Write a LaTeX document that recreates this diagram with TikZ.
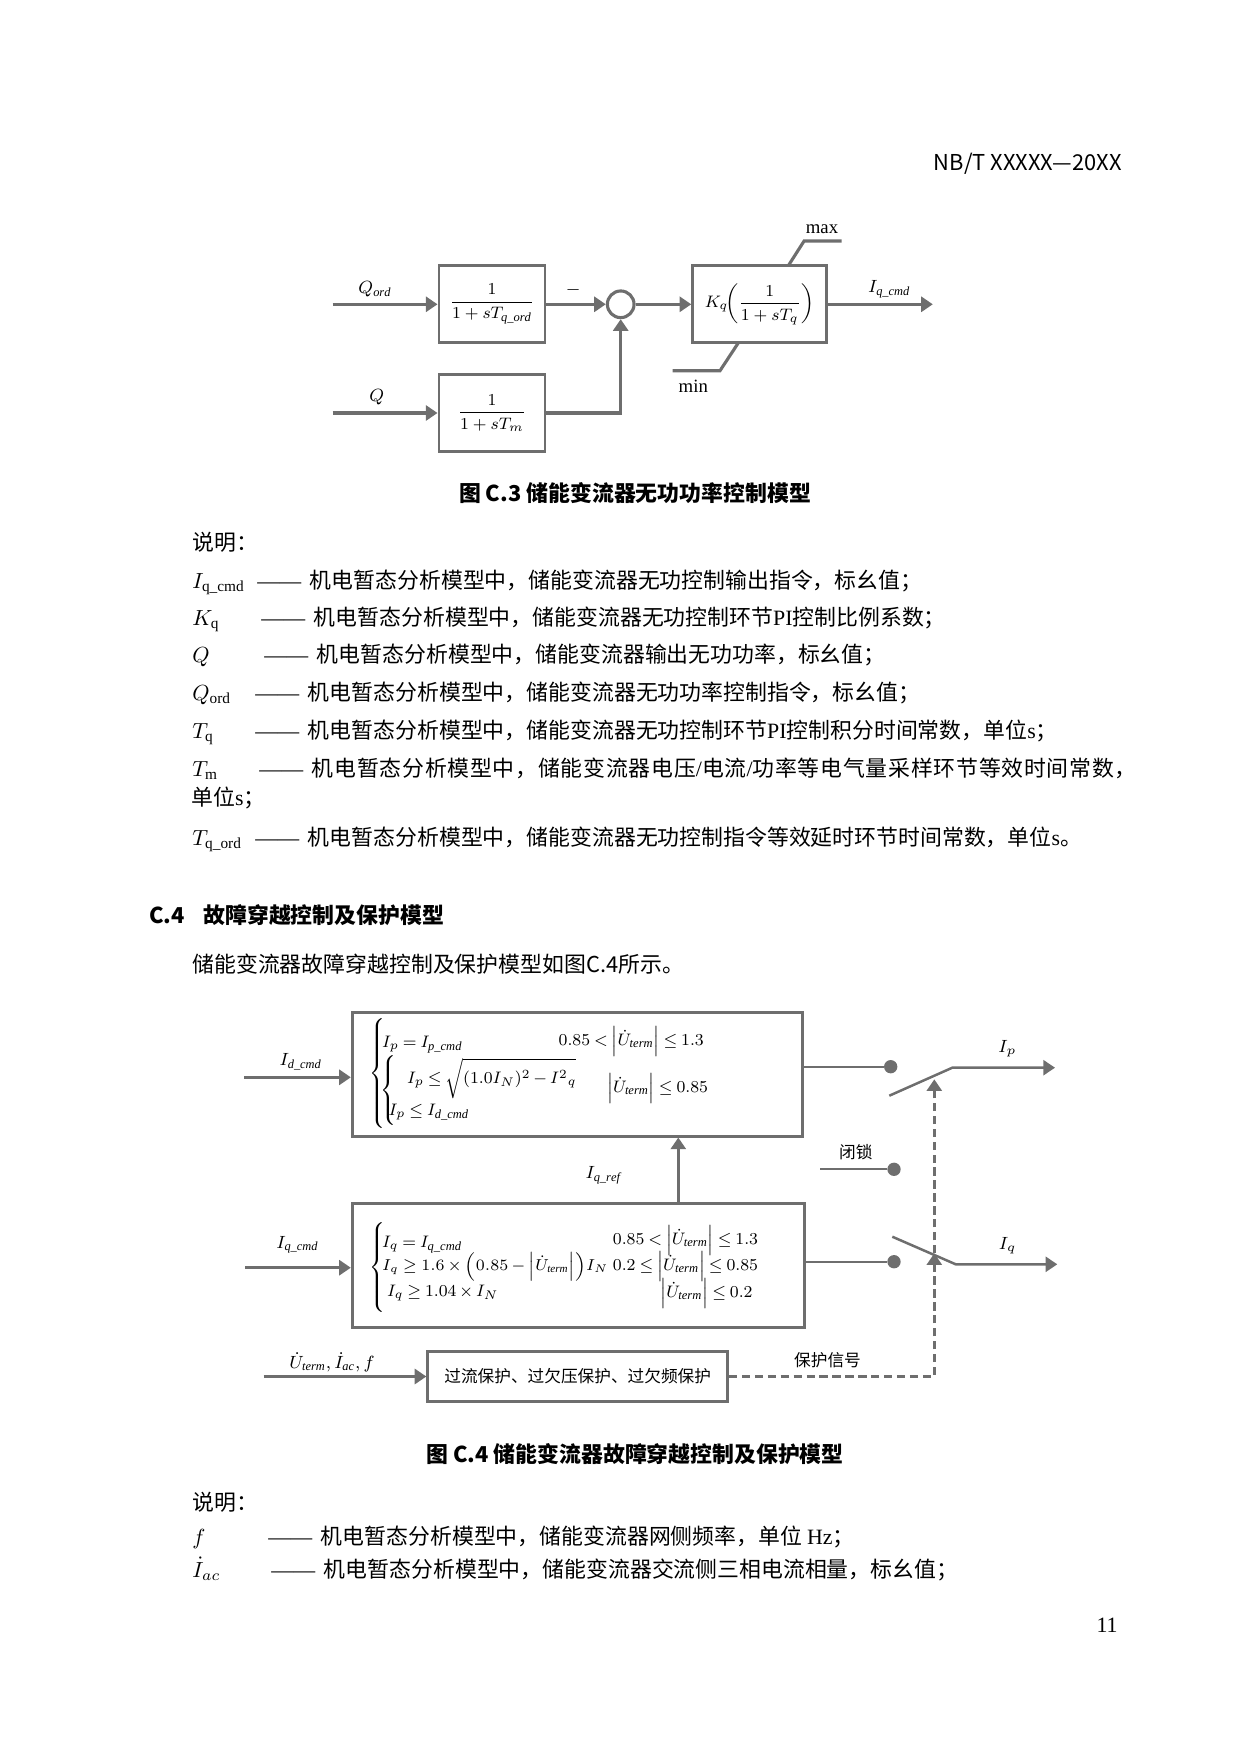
\RequirePackage{fix-cm}
\documentclass[tikz,border=0pt]{standalone}
\usepackage{amsmath}
\usepackage{fontspec}
\setmainfont{Liberation Serif}
\newfontfamily\cjk{Noto Sans CJK SC}
\newfontfamily\cjkwide[LetterSpace=3.5]{Noto Sans CJK SC}
\usetikzlibrary{arrows.meta}
\definecolor{linegray}{RGB}{110,110,110}
\newcommand\lat[1]{{\rmfamily #1}}
\newcommand\dash{\lat{——}\hspace{0.4em}}
\newcommand\uterm{\Bigl|\dot{U}_{\mathit{term}}\Bigr|}
\newcommand\tightmath{\thickmuskip=4mu\relax\medmuskip=3mu\relax}
\newcommand\bigbrace[1]{{\delimitershortfall=-1pt$\left\{\vrule height #1 depth #1 width 0pt\right.$}}
\begin{document}
\begin{tikzpicture}[x=0.48006pt,y=-0.48006pt,
  body/.style={anchor=base west,inner sep=0pt,font=\cjk\fontsize{10.5}{12}\selectfont},
  ttl/.style={anchor=base,inner sep=0pt,font=\cjk\bfseries\fontsize{10.5}{12}\selectfont},
  sym/.style={anchor=base west,inner sep=0pt,font=\fontsize{10.5}{12}\selectfont},
  blk/.style={draw=linegray,line width=1.4pt,inner sep=0pt,font=\fontsize{8}{10}\selectfont},
  sig/.style={draw=linegray,line width=1.5pt,-{Triangle[length=5.6pt,width=7.2pt]}},
  blade/.style={sig,line width=1.2pt},
  wire/.style={draw=linegray,line width=1.1pt},
  dsig/.style={sig,dash pattern=on 4pt off 2.2pt},
  contact/.style={circle,fill=linegray,inner sep=0pt,minimum size=6.4pt},
  lbl/.style={inner sep=0pt,font=\fontsize{8.5}{10}\selectfont},
  eqn/.style={anchor=west,inner sep=0pt,font={\fontsize{8}{10}\selectfont\tightmath}},
  tag/.style={inner sep=0pt,font=\cjk\fontsize{8}{10}\selectfont}]
\useasboundingbox (0,0) rectangle (1240,1754);

\node[anchor=base east,inner sep=0pt,font=\cjk\fontsize{10.5}{12}\selectfont] (hdr) at (1122,171) {NB/T XXXXX—20XX};

\node[blk,minimum width=50.9pt,minimum height=37.1pt] (lag1) at (492,304.3) {$\dfrac{1}{1+sT_{\mathit{q\_ord}}}$};
\node[blk,minimum width=50.9pt,minimum height=37.1pt] (lag2) at (492,413) {$\dfrac{1}{1+sT_m}$};
\node[circle,draw=linegray,line width=1.5pt,inner sep=0pt,minimum size=12.8pt] (sum) at (620.7,304.3) {};
\node[blk,minimum width=64pt,minimum height=37.1pt] (pi) at (759.4,304.3) {$K_q\!\biggl(\dfrac{1}{1+sT_q}\biggr)$};
\coordinate (qordin) at (332.7,304.3);
\coordinate (qin) at (332.7,413);
\coordinate (iqcmdout) at (932.8,304.3);
\coordinate (mx0) at (788.3,265.7);
\coordinate (mx1) at (804.1,241);
\coordinate (mx2) at (841.5,241);
\coordinate (mn0) at (738.3,342.9);
\coordinate (mn1) at (720,370.7);
\coordinate (mn2) at (672.7,370.7);
\node[lbl] (lqord) at (375,289.3) {$Q_{\mathit{ord}}$};
\node[lbl] (lq) at (376.7,396.7) {$Q$};
\node[lbl] (lminus) at (573.3,290) {$-$};
\node[lbl] (liqcmd) at (889.2,289.3) {$I_{\mathit{q\_cmd}}$};
\node[lbl,font=\fontsize{9}{10}\selectfont] (lmax) at (822,229.3) {max};
\node[lbl,font=\fontsize{9}{10}\selectfont] (lmin) at (693.3,386) {min};

\node[ttl] (cap1) at (635,501) {图 C.3 储能变流器无功功率控制模型};

\node[body] (shuo1) at (192,550) {说明：};
\node[sym] (s1) at (192,588) {$I_{\mathrm{q\_cmd}}$};
\node[body] (t1) at (257,588) {\dash 机电暂态分析模型中，储能变流器无功控制输出指令，标幺值；};
\node[sym] (s2) at (192,625) {$K_{\mathrm{q}}$};
\node[body] (t2) at (261,625) {\dash 机电暂态分析模型中，储能变流器无功控制环节\lat{PI}控制比例系数；};
\node[sym] (s3) at (192,662) {$Q$};
\node[body] (t3) at (264,662) {\dash 机电暂态分析模型中，储能变流器输出无功功率，标幺值；};
\node[sym] (s4) at (192,700) {$Q_{\mathrm{ord}}$};
\node[body] (t4) at (255,700) {\dash 机电暂态分析模型中，储能变流器无功功率控制指令，标幺值；};
\node[sym] (s5) at (192,738) {$T_{\mathrm{q}}$};
\node[body] (t5) at (255,738) {\dash 机电暂态分析模型中，储能变流器无功控制环节\lat{PI}控制积分时间常数，单位\lat{s}；};
\node[sym] (s6) at (192,776) {$T_{\mathrm{m}}$};
\node[body,font=\cjkwide\fontsize{10.5}{12}\selectfont] (t6) at (259,776) {\dash 机电暂态分析模型中，储能变流器电压\lat{/}电流\lat{/}功率等电气量采样环节等效时间常数，};
\node[body] (t6b) at (191,805) {单位\lat{s}；};
\node[sym] (s7) at (192,845) {$T_{\mathrm{q\_ord}}$};
\node[body] (t7) at (255,845) {\dash 机电暂态分析模型中，储能变流器无功控制指令等效延时环节时间常数，单位\lat{s}。};

\node[ttl,anchor=base west] (secno) at (148.6,923) {C.4};
\node[ttl,anchor=base west] (sectitle) at (203,923) {故障穿越控制及保护模型};
\node[body] (para) at (192,972) {储能变流器故障穿越控制及保护模型如图C.4所示。};

\node[blk,minimum width=216.2pt,minimum height=59.4pt] (boxA) at (577.5,1074.2) {};
\node[blk,minimum width=217.1pt,minimum height=59.4pt] (boxB) at (578.4,1265.2) {};
\node[blk,minimum width=143.9pt,minimum height=24pt,font=\cjk\fontsize{8}{10}\selectfont] (prot) at (577.7,1376.5) {过流保护、过欠压保护、过欠频保护};

\node[anchor=west,inner sep=0pt,font=\fontsize{8.5}{10}\selectfont] (bra) at (369,1073.3) {\bigbrace{21.6pt}};
\node[eqn] (a1) at (381.7,1045) {$I_p = I_{\mathit{p\_cmd}}$};
\node[eqn] (ac1) at (558.3,1041.7) {$0.85 < \uterm \le 1.3$};
\node[anchor=west,inner sep=0pt,font=\fontsize{8.5}{10}\selectfont] (brai) at (380.5,1090) {\bigbrace{12.5pt}};
\node[eqn] (a2) at (406.7,1078.3) {$I_p \le \sqrt{\vphantom{\Big|}(1.0I_N)^2 - I^{2}{}_{q}}$};
\node[eqn] (ac2) at (606.7,1088.3) {$\uterm \le 0.85$};
\node[eqn] (a3) at (388.3,1111.7) {$I_p \le I_{\mathit{d\_cmd}}$};

\node[anchor=west,inner sep=0pt,font=\fontsize{8.5}{10}\selectfont] (brb) at (369,1267.7) {\bigbrace{16.6pt}};
\node[eqn] (b1) at (381.7,1245) {$I_q = I_{\mathit{q\_cmd}}$};
\node[eqn,anchor=east] (bc1) at (758.5,1240.7) {$0.85 < \uterm \le 1.3$};
\node[eqn,font={\fontsize{7.6}{10}\selectfont\tightmath}] (b2) at (381.7,1266.7) {$I_q \ge 1.6\times\Bigl(0.85-\uterm\Bigr)I_N$};
\node[eqn,anchor=east] (bc2) at (758.5,1266.7) {$0.2 \le \uterm \le 0.85$};
\node[eqn] (b3) at (386.7,1293.3) {$I_q \ge 1.04\times I_N$};
\node[eqn,anchor=east] (bc3) at (753,1293.3) {$\uterm \le 0.2$};

\node[contact] (ca) at (890.7,1066.7) {};
\node[contact] (cl) at (894,1169.3) {};
\node[contact] (cb) at (894,1261.7) {};
\coordinate (idin) at (244,1077.3);
\coordinate (iqin) at (245,1267.7);
\coordinate (protin) at (263.6,1376.5);
\coordinate (lockin) at (820,1169.3);
\coordinate (swa0) at (889.3,1095.7);
\coordinate (swa1) at (952.3,1067.7);
\coordinate (ipout) at (1055,1067.7);
\coordinate (swb0) at (892.3,1236.7);
\coordinate (swb1) at (955.7,1264.3);
\coordinate (iqout) at (1057.3,1264.3);
\coordinate (iqx) at (678.3,1170);
\coordinate (dcorner) at (934.3,1376.5);
\coordinate (dtipb) at (934.3,1253.3);
\coordinate (dtipa) at (934.3,1079.3);

\node[lbl] (lid) at (300.8,1061.7) {$I_{\mathit{d\_cmd}}$};
\node[lbl] (liq) at (297.5,1245) {$I_{\mathit{q\_cmd}}$};
\node[lbl] (lip) at (1007.5,1049) {$I_p$};
\node[lbl] (liqo) at (1007.7,1246) {$I_q$};
\node[lbl] (liqref) at (603.3,1175) {$I_{\mathit{q\_ref}}$};
\node[tag] (llock) at (855.8,1152) {闭锁};
\node[tag] (lprot) at (827.5,1360) {保护信号};
\node[lbl] (lprotin) at (332,1362.3) {$\dot{U}_{\mathit{term}},\dot{I}_{\mathit{ac}},f$};

\node[ttl] (cap2) at (635,1462) {图 C.4 储能变流器故障穿越控制及保护模型};

\node[body] (shuo2) at (192,1510) {说明：};
\node[sym] (s8) at (192,1544) {$f$};
\node[body] (t8) at (268,1544) {\dash 机电暂态分析模型中，储能变流器网侧频率，单位 \lat{Hz}；};
\node[sym] (s9) at (192,1577) {$\dot{I}_{ac}$};
\node[body] (t9) at (271,1577) {\dash 机电暂态分析模型中，储能变流器交流侧三相电流相量，标幺值；};

\node[anchor=base east,inner sep=0pt,font=\fontsize{10.5}{12}\selectfont] (pgno) at (1118,1632) {11};

\draw[sig] (qordin) -- (lag1.west);
\draw[sig] (lag1.east) -- (sum.west);
\draw[sig] (sum.east) -- (pi.west);
\draw[sig] (pi.east) -- (iqcmdout);
\draw[sig] (qin) -- (lag2.west);
\draw[sig] (lag2.east) -| (sum.south);
\draw[wire,line width=1.5pt] (mx0) -- (mx1) -- (mx2);
\draw[wire,line width=1.5pt] (mn0) -- (mn1) -- (mn2);

\draw[sig] (idin) -- (idin -| boxA.west);
\draw[sig] (iqin) -- (iqin -| boxB.west);
\draw[sig] (protin) -- (prot.west);
\draw[sig] (boxB.north -| iqx) -- (boxA.south -| iqx);
\draw[wire] (ca -| boxA.east) -- (ca);
\draw[wire] (lockin) -- (cl);
\draw[wire] (cb -| boxB.east) -- (cb);
\draw[blade] (swa0) -- (swa1) -- (ipout);
\draw[blade] (swb0) -- (swb1) -- (iqout);
\draw[dsig] (prot.east) -- (dcorner) -- (dtipb);
\draw[dsig] (dtipb) -- (dtipa);
\end{tikzpicture}
\end{document}
